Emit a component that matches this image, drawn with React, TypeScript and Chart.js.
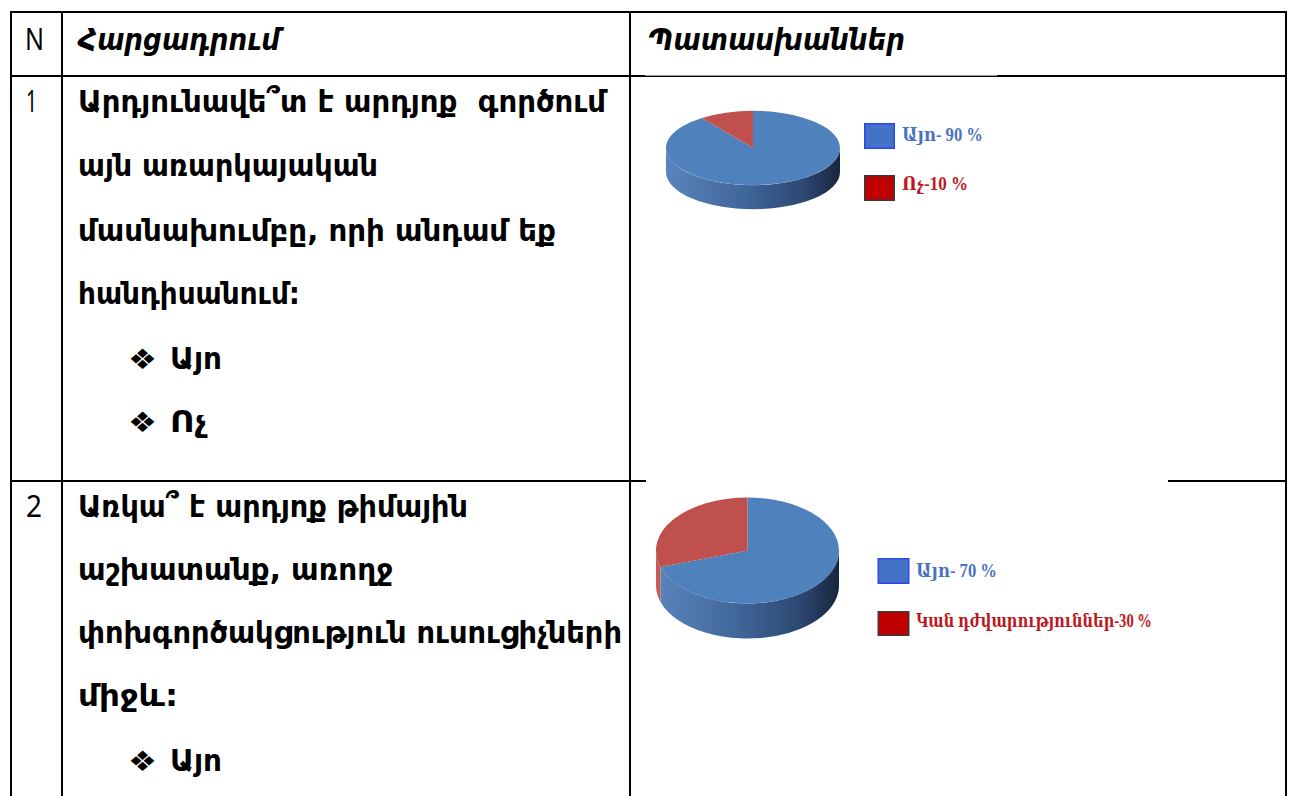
import React, { useEffect, useRef } from "react";
import { Chart, registerables } from "chart.js";

Chart.register(...registerables);

// ---------- data ----------
const pie1Categories = ["Այո", "Ոչ"];
const pie1Values = [90, 10];
const pie1Legend = ["Այո- 90 %", "Ոչ-10 %"];

const pie2Categories = ["Այո", "Կան դժվարություններ"];
const pie2Values = [70, 30];
const pie2Legend = ["Այո- 70 %", "Կան դժվարություններ-30 %"];

const headerLabels = ["N", "Հարցադրում", "Պատասխաններ"];
const rowNumbers = ["1", "2"];
const q1Lines = [
  "Արդյունավե՞տ է արդյոք  գործում",
  "այն առարկայական",
  "մասնախումբը, որի անդամ եք",
  "հանդիսանում:",
];
const q1Options = ["Այո", "Ոչ"];
const q2Lines = [
  "Առկա՞ է արդյոք թիմային",
  "աշխատանք, առողջ",
  "փոխգործակցություն ուսուցիչների",
  "միջև:",
];
const q2Options = ["Այո"];

// ---------- styles ----------
const topColors = ["#4f81bd", "#c0504d"];
const sideStops = [
  ["#5a84bb", "#40679a", "#2b4670", "#17263d"],
  ["#c45c59", "#9c3c3a", "#742826", "#4a1716"],
];
const legendFill = ["#4472c4", "#c00000"];
const legendStroke = ["#2f46f0", "#3a3a3a"];
const legendText = ["#4a72c2", "#c0161d"];

const BODY = "'DejaVu Sans', sans-serif";
const LEG = "'Liberation Serif', 'DejaVu Serif', serif";

const pie3dPlugin = {
  id: "pie3d",
  beforeDatasetsDraw(chart: any, _args: any, opts: any) {
    const ctx = chart.ctx as CanvasRenderingContext2D;
    const meta = chart.getDatasetMeta(0);
    const first = meta.data[0] as any;
    if (!first) return;
    const cx = first.x;
    const cy = first.y;
    const r = first.outerRadius;
    const k = opts.squash;
    const d = opts.depth / k;
    ctx.save();
    ctx.translate(cx, cy);
    ctx.scale(1, k);
    ctx.translate(-cx, -cy);
    meta.data.forEach((el: any, i: number) => {
      const a0 = el.startAngle;
      const a1 = el.endAngle;
      for (let n = -1; n <= 1; n++) {
        const lo = Math.max(a0, 2 * Math.PI * n);
        const hi = Math.min(a1, Math.PI + 2 * Math.PI * n);
        if (hi <= lo) continue;
        const g = ctx.createLinearGradient(cx - r, 0, cx + r, 0);
        const st = sideStops[i % sideStops.length];
        g.addColorStop(0, st[0]);
        g.addColorStop(0.45, st[1]);
        g.addColorStop(0.8, st[2]);
        g.addColorStop(1, st[3]);
        ctx.beginPath();
        ctx.arc(cx, cy, r, lo, hi, false);
        ctx.lineTo(cx + r * Math.cos(hi), cy + r * Math.sin(hi) + d);
        ctx.arc(cx, cy + d, r, hi, lo, true);
        ctx.closePath();
        ctx.fillStyle = g;
        ctx.fill();
      }
    });
  },
  afterDatasetsDraw(chart: any) {
    chart.ctx.restore();
  },
};

type PieProps = {
  cx: number;
  cy: number;
  rx: number;
  ry: number;
  depth: number;
  labels: string[];
  values: number[];
};

function Pie3D({ cx, cy, rx, ry, depth, labels, values }: PieProps) {
  const ref = useRef<HTMLCanvasElement>(null);
  const size = Math.ceil(2 * rx) + 2;
  useEffect(() => {
    const chart = new Chart(ref.current as HTMLCanvasElement, {
      type: "pie",
      data: {
        labels,
        datasets: [
          {
            data: values,
            backgroundColor: topColors,
            borderWidth: 0,
            hoverOffset: 0,
            clip: false,
          } as any,
        ],
      },
      options: {
        responsive: false,
        animation: false,
        events: [],
        layout: { padding: 1 },
        plugins: {
          legend: { display: false },
          tooltip: { enabled: false },
          pie3d: { squash: ry / rx, depth },
        } as any,
      },
      plugins: [pie3dPlugin as any],
    });
    return () => chart.destroy();
  }, []);
  return (
    <canvas
      ref={ref}
      width={size}
      height={size}
      style={{
        position: "absolute",
        left: cx - size / 2,
        top: cy - size / 2,
        width: size,
        height: size,
      }}
    />
  );
}

type TProps = {
  x: number;
  y: number;
  w: number;
  size: number;
  text: string;
  family?: string;
  weight?: string;
  italic?: boolean;
  color?: string;
};

function T({ x, y, w, size, text, family = BODY, weight = "bold", italic, color = "#000" }: TProps) {
  return (
    <text
      x={x}
      y={y}
      textLength={w}
      lengthAdjust="spacingAndGlyphs"
      fontFamily={family}
      fontWeight={weight}
      fontStyle={italic ? "italic" : "normal"}
      fontSize={size}
      fill={color}
      style={{ whiteSpace: "pre" }}
    >
      {text}
    </text>
  );
}

function Legend({ x, textX, boxes, baselines, widths, labels }: any) {
  return (
    <g>
      {labels.map((lab: string, i: number) => (
        <g key={i}>
          <rect
            x={x + 0.75}
            y={boxes[i][0] + 0.75}
            width={boxes[i][2] - 1.5}
            height={boxes[i][1] - 1.5}
            fill={legendFill[i]}
            stroke={legendStroke[i]}
            strokeWidth={1.5}
          />
          <T x={textX} y={baselines[i]} w={widths[i]} size={19} text={lab} family={LEG} color={legendText[i]} />
        </g>
      ))}
    </g>
  );
}

export default function App() {
  useEffect(() => {
    document.body.style.margin = "0";
  }, []);
  const optW: Record<string, number> = { "Այո": 52, "Ոչ": 37 };
  const q1Widths = [528, 300, 478, 222];
  const q1Base = [112, 176, 241, 304];
  const q1OptBase = [369, 432];
  const q2Widths = [390, 315, 544, 100];
  const q2Base = [517, 580, 643, 706];
  const q2OptBase = [771];
  return (
    <div
      style={{
        position: "absolute",
        left: 0,
        top: 0,
        width: 1291,
        height: 796,
        overflow: "hidden",
        background: "#fff",
      }}
    >
      <svg width={1291} height={796} style={{ position: "absolute", left: 0, top: 0 }}>
        {/* borders */}
        <rect x={10} y={11} width={1277} height={2} fill="#000" />
        <rect x={10} y={11} width={2} height={785} fill="#000" />
        <rect x={61} y={11} width={2} height={785} fill="#000" />
        <rect x={629} y={11} width={2} height={785} fill="#000" />
        <rect x={1285} y={11} width={2} height={785} fill="#000" />
        <rect x={10} y={75} width={1277} height={2} fill="#000" />
        <rect x={10} y={480} width={1277} height={2} fill="#000" />
        {/* picture backgrounds covering lines */}
        <rect x={645} y={74} width={352} height={1.6} fill="#fff" />
        <rect x={646} y={478} width={522} height={6} fill="#fff" />

        {/* header */}
        <T x={25} y={50} w={19} size={31} text={headerLabels[0]} family="'Noto Sans', sans-serif" weight="normal" />
        <T x={78} y={50} w={202} size={30} text={headerLabels[1]} italic />
        <T x={648} y={50} w={257} size={30} text={headerLabels[2]} italic />

        {/* row 1 */}
        <T x={26} y={112} w={11} size={31} text={rowNumbers[0]} family="'Noto Sans', sans-serif" weight="normal" />
        {q1Lines.map((l, i) => (
          <T key={i} x={78} y={q1Base[i]} w={q1Widths[i]} size={31} text={l} />
        ))}
        {q1Options.map((o, i) => (
          <g key={i}>
            <T x={128} y={q1OptBase[i]} w={29} size={28} text="❖" weight="normal" />
            <T x={170} y={q1OptBase[i]} w={optW[o]} size={31} text={o} />
          </g>
        ))}

        {/* row 2 */}
        <T x={26} y={517} w={16} size={31} text={rowNumbers[1]} family="'Noto Sans', sans-serif" weight="normal" />
        {q2Lines.map((l, i) => (
          <T key={i} x={78} y={q2Base[i]} w={q2Widths[i]} size={31} text={l} />
        ))}
        {q2Options.map((o, i) => (
          <g key={i}>
            <T x={128} y={q2OptBase[i]} w={29} size={28} text="❖" weight="normal" />
            <T x={170} y={q2OptBase[i]} w={optW[o]} size={31} text={o} />
          </g>
        ))}

        {/* legends */}
        <Legend
          x={864}
          textX={902}
          boxes={[
            [123, 26, 31],
            [175, 26, 31],
          ]}
          baselines={[141, 190]}
          widths={[81, 66]}
          labels={pie1Legend}
        />
        <Legend
          x={877.5}
          textX={916}
          boxes={[
            [558, 26, 32],
            [611, 25, 32],
          ]}
          baselines={[577, 627]}
          widths={[81, 236]}
          labels={pie2Legend}
        />
      </svg>
      <Pie3D cx={753.3} cy={148} rx={86.7} ry={37} depth={24} labels={pie1Categories} values={pie1Values} />
      <Pie3D cx={747.5} cy={550} rx={91.5} ry={53} depth={35} labels={pie2Categories} values={pie2Values} />
    </div>
  );
}
